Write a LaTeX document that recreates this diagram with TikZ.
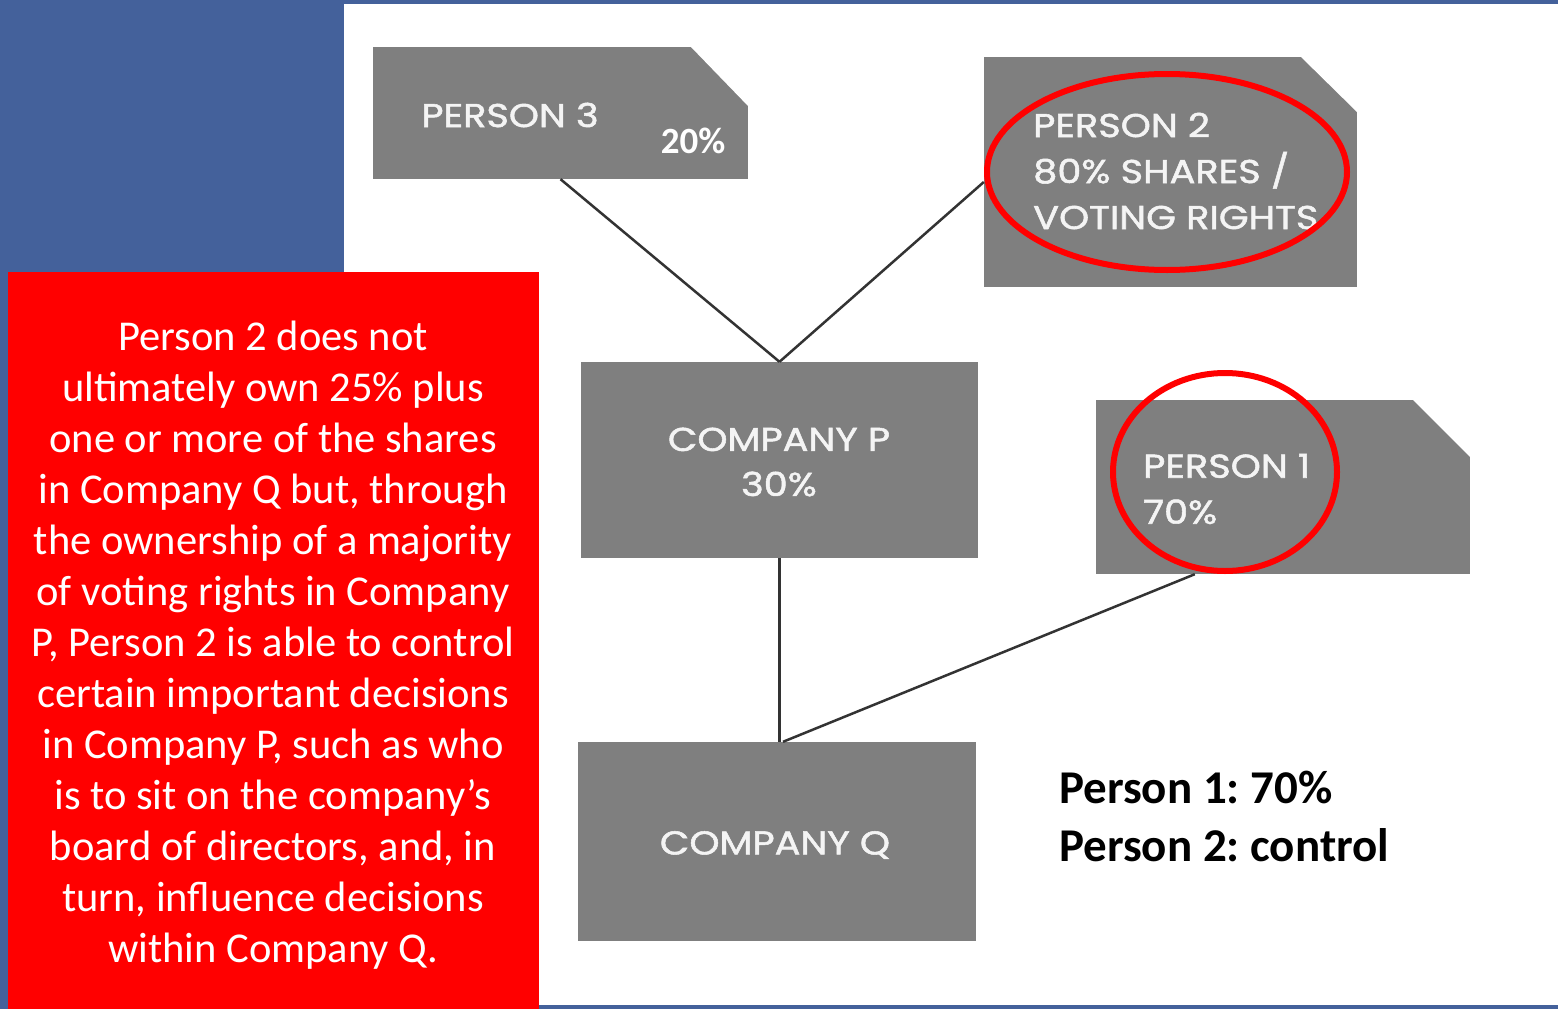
\documentclass[tikz,border=0pt]{standalone}
\usepackage{fontspec}
\setmainfont{Carlito}
\newfontfamily\boxfont[FakeBold=1.6, FakeStretch=1.16]{Poppins}
\usetikzlibrary{calc}
\definecolor{bgblue}{HTML}{44619B}
\definecolor{boxgray}{HTML}{7F7F7F}
\definecolor{lbl}{HTML}{F4F4F4}
\definecolor{linkc}{HTML}{333333}
\definecolor{notered}{HTML}{FF0000}
\tikzset{
  gbox/.style={fill=boxgray, draw=none, inner sep=0pt},
  cut/.style={fill=white, draw=none},
  glabel/.style={text=lbl, inner sep=0pt, font=\boxfont\fontsize{33}{46}\selectfont},
  link/.style={draw=linkc, line width=2.5pt},
  ring/.style={draw=notered, line width=6pt},
}
\frenchspacing
\begin{document}
\begin{tikzpicture}[x=1pt,y=-1pt]
\fill[bgblue] (0,0) rectangle (1558,1009);
\fill[white] (344,4) rectangle (1558,1005);
\useasboundingbox (0,0) rectangle (1558,1009);

\node[gbox, minimum width=375pt, minimum height=132pt] (p3) at (560.5,113) {};
\node[gbox, minimum width=373pt, minimum height=230pt] (p2) at (1170.5,172) {};
\node[gbox, minimum width=397pt, minimum height=196pt] (cp) at (779.5,460) {};
\node[gbox, minimum width=374pt, minimum height=174pt] (p1) at (1283,487) {};
\node[gbox, minimum width=398pt, minimum height=199pt] (cq) at (777,841.5) {};

\fill[cut] (690,46) -- (749,46) -- (749,107) -- cycle;
\fill[cut] (1300,56) -- (1358,56) -- (1358,113) -- cycle;
\fill[cut] (1412,399) -- (1471,399) -- (1471,458) -- cycle;

\draw[link] (p3.south) -- (cp.north);
\draw[link] ($(p2.west)+(0,10)$) -- (cp.north);
\draw[link] (cp.south) -- (cp.south |- cq.north);
\draw[link] ($(p1.south west)+(99,0)$) -- ($(cq.north)+(6,0)$);

% labels
\node[glabel] (t3) at (510,115) {PERSON 3};
\node[text=white, inner sep=0pt, font=\bfseries\fontsize{37}{40}\selectfont] (t3b) at (693,141) {20\%};
\node[glabel, anchor=west, align=left] (t2) at (1033,171) {PERSON 2\\80\% SHARES /\\VOTING RIGHTS};
\node[glabel, align=center, font=\boxfont\fontsize{33}{45}\selectfont] (tp) at (779,462) {COMPANY P\\30\%};
\node[glabel, anchor=west, align=left] (t1) at (1143,489) {PERSON 1\\70\%};
\node[glabel] (tq) at (775,845) {COMPANY Q};

% red ellipses
\draw[ring] (1167,172) ellipse [x radius=180, y radius=98];
\draw[ring] (1225,472) ellipse [x radius=112, y radius=99];

% summary
\node[anchor=west, align=left, inner sep=0pt, font=\bfseries\fontsize{47}{58}\selectfont] (sum) at (1059,816) {Person 1: 70\%\\Person 2: control};

% red note
\node[fill=notered, draw=none, inner sep=0pt, minimum width=531pt, minimum height=737pt] (note) at (273.5,640.5) {};
\node[text=white, align=center, inner sep=0pt, font=\fontsize{42.5}{51}\selectfont] (notetext) at (273,645) {Person 2 does not\\ultimately own 25\% plus\\one or more of the shares\\in Company Q but, through\\the ownership of a majority\\of voting rights in Company\\P, Person 2 is able to control\\certain important decisions\\in Company P, such as who\\is to sit on the company’s\\board of directors, and, in\\turn, influence decisions\\within Company Q.};
\end{tikzpicture}
\end{document}
